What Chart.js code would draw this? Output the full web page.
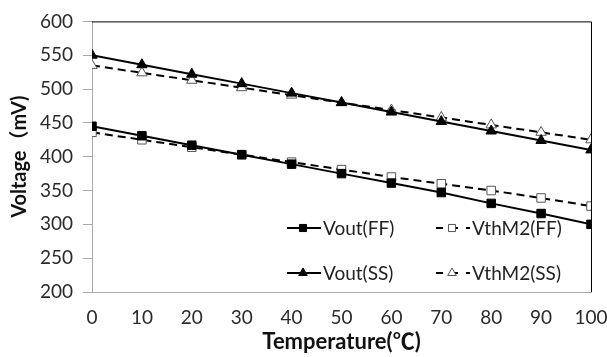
<!DOCTYPE html>
<html>
<head>
<meta charset="utf-8">
<script src="https://cdn.jsdelivr.net/npm/chart.js@4.4.1/dist/chart.umd.min.js"></script>
<style>
  html, body { margin: 0; padding: 0; background: #fff; }
  #wrap { width: 607px; height: 357px; }
</style>
</head>
<body>
<div id="wrap"><canvas id="chart"></canvas></div>
<script>
const temps = [0, 10, 20, 30, 40, 50, 60, 70, 80, 90, 100];
const voutFF = [445, 431, 417, 403, 389, 375, 361, 347, 331, 316, 300];
const vthFF = [436, 425, 414, 403, 392, 381, 370, 360, 350, 339, 327];
const voutSS = [550, 536, 522, 508, 494, 480, 466, 452, 438, 424, 410];
const vthSS = [535, 524, 513, 502, 491, 480, 469, 458, 447, 436, 425];

const seriesNames = ["Vout(FF)", "VthM2(FF)", "Vout(SS)", "VthM2(SS)"];

const FONT = "Lato, 'Noto Sans CJK SC', sans-serif";

function pts(vals) {
  return temps.map((t, i) => ({ x: t, y: vals[i] }));
}

function ds(label, vals, opts) {
  return Object.assign({
    label,
    data: pts(vals),
    borderColor: "#000",
    borderWidth: 2,
    pointBorderWidth: 1,
    tension: 0,
  }, opts);
}

const datasets = [
  ds(seriesNames[0], voutFF, { pointStyle: "rect", pointRadius: 6, backgroundColor: "#000", pointBackgroundColor: "#000" }),
  ds(seriesNames[1], vthFF, { borderDash: [8, 5], pointStyle: "rect", pointRadius: 6, pointBackgroundColor: "#fff", pointBorderColor: "#555", backgroundColor: "#fff" }),
  ds(seriesNames[2], voutSS, { pointStyle: "triangle", pointRadius: 6, backgroundColor: "#000", pointBackgroundColor: "#000" }),
  ds(seriesNames[3], vthSS, { borderDash: [8, 5], pointStyle: "triangle", pointRadius: 6, pointBackgroundColor: "#fff", pointBorderColor: "#555", backgroundColor: "#fff" }),
];

// legend inside plot, 2x2, plus top/right frame
const framePlugin = {
  id: "frameLegend",
  afterDraw(chart) {
    const { ctx, chartArea: a } = chart;
    ctx.save();
    ctx.strokeStyle = "#000";
    ctx.lineWidth = 1;
    ctx.beginPath();
    ctx.moveTo(a.left, a.top + 0.5);
    ctx.lineTo(a.right + 0.5, a.top + 0.5);
    ctx.lineTo(a.right + 0.5, a.bottom);
    ctx.stroke();

    const slots = [
      { x: 287, y: 228 }, { x: 436, y: 228 },
      { x: 287, y: 273 }, { x: 436, y: 273 },
    ];
    chart.data.datasets.forEach((d, i) => {
      const s = slots[i];
      ctx.strokeStyle = "#000";
      ctx.lineWidth = 2;
      ctx.setLineDash(d.borderDash ? [7, 8] : []);
      ctx.beginPath();
      ctx.moveTo(s.x, s.y);
      ctx.lineTo(s.x + 34, s.y);
      ctx.stroke();
      ctx.setLineDash([]);
      ctx.lineWidth = 1;
      ctx.fillStyle = d.pointBackgroundColor;
      ctx.strokeStyle = d.pointBorderColor || "#000";
      Chart.helpers.drawPoint(ctx, { pointStyle: d.pointStyle, radius: 5, rotation: 0, borderWidth: 1 }, s.x + 16, s.y);
      ctx.fillStyle = "#222";
      ctx.font = "19px " + FONT;
      ctx.textBaseline = "middle";
      ctx.textAlign = "left";
      ctx.fillText(d.label, s.x + 36, s.y + 1);
    });
    ctx.restore();
  }
};

new Chart(document.getElementById("chart"), {
  type: "line",
  data: { datasets },
  options: {
    responsive: true,
    maintainAspectRatio: false,
    animation: false,
    layout: { padding: { top: 9, right: 16, left: 0, bottom: 0 } },
    plugins: { legend: { display: false }, tooltip: { enabled: false } },
    scales: {
      x: {
        type: "linear",
        min: 0,
        max: 100,
        ticks: { stepSize: 10, color: "#2a2a2a", font: { family: FONT, size: 19 }, padding: 8 },
        grid: { display: false, drawOnChartArea: false, drawTicks: true, tickLength: 6, color: "#aaa" },
        border: { color: "#aaa", width: 1 },
        title: { display: true, text: "Temperature(℃)", color: "#111", font: { family: FONT, size: 22, weight: "bold" }, padding: { top: 0, bottom: 2 } },
        afterFit(s) {
          s.height = 65;
          // let the "100" label run past the plot edge like the original
          s.paddingLeft = 0;
          s.paddingRight = 0;
        },
      },
      y: {
        min: 200,
        max: 600,
        ticks: { stepSize: 50, color: "#2a2a2a", font: { family: FONT, size: 19 }, padding: 10 },
        grid: { drawOnChartArea: false, drawTicks: true, tickLength: 9, color: "#aaa" },
        border: { color: "#aaa", width: 1 },
        title: { display: true, text: "Voltage（mV)", color: "#111", font: { family: FONT, size: 20, weight: "bold" }, padding: { top: 8, bottom: 0 } },
        afterFit(s) { s.width = 92; },
      },
    },
  },
  plugins: [framePlugin],
});
</script>
</body>
</html>
